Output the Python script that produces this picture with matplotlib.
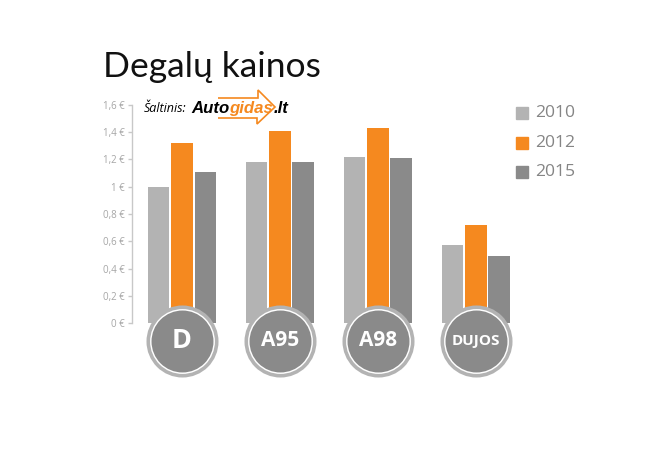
import matplotlib
matplotlib.use("Agg")
import matplotlib.pyplot as plt
import numpy as np
from matplotlib.patches import Polygon

W, H = 670, 473

fuels = ["D", "A95", "A98", "DUJOS"]
years = ["2010", "2012", "2015"]
prices_2010 = [1.00, 1.18, 1.22, 0.57]
prices_2012 = [1.32, 1.41, 1.43, 0.72]
prices_2015 = [1.11, 1.18, 1.21, 0.49]
ticks = [0, 0.2, 0.4, 0.6, 0.8, 1.0, 1.2, 1.4, 1.6]
tick_labels = ["0 €", "0,2 €", "0,4 €", "0,6 €", "0,8 €", "1 €", "1,2 €", "1,4 €", "1,6 €"]

colors = ["#b3b3b3", "#f5891f", "#8a8a8a"]


def fx(x):
    return x / W


def fy(y):
    return 1 - y / H


fig = plt.figure(figsize=(W / 100, H / 100), dpi=100)
fig.patch.set_facecolor("white")

# axes: left edge = y axis line at px 132, y=0 at px 323, y=1.6 at px 105
ax = fig.add_axes([fx(132), fy(323), fx(520) - fx(132), fy(105) - fy(323)])
ax.set_xlim(-0.51, 3.45)
ax.set_ylim(0, 1.6)

x = np.arange(len(fuels))
bw = 0.22
off = 0.238
for i, vals in enumerate([prices_2010, prices_2012, prices_2015]):
    ax.bar(x + (i - 1) * off, vals, width=bw, color=colors[i], zorder=2)

# round badges under each group
ax.scatter(x, [-0.13] * 4, s=2690, color="#b3b3b3", clip_on=False, zorder=5, linewidths=0)
ax.scatter(x, [-0.13] * 4, s=2180, color="white", clip_on=False, zorder=6, linewidths=0)
ax.scatter(x, [-0.13] * 4, s=1990, color="#8a8a8a", clip_on=False, zorder=7, linewidths=0)
sizes = [19.5, 15, 15, 11]
for xi, name, fs in zip(x, fuels, sizes):
    ax.text(xi, -0.13, name, ha="center", va="center", color="white",
            fontsize=fs, fontweight="bold", family="Open Sans", zorder=8, clip_on=False)

for s in ["top", "right", "bottom"]:
    ax.spines[s].set_visible(False)
ax.spines["left"].set_color("#c8c8c8")
ax.spines["left"].set_linewidth(1)
ax.set_xticks([])
ax.set_yticks(ticks)
ax.set_yticklabels(tick_labels)
ax.tick_params(axis="y", length=3, width=1, color="#c8c8c8", labelcolor="#a6a6a6",
               labelsize=7, pad=2)
for lab in ax.get_yticklabels():
    lab.set_family("Open Sans")

# title
fig.text(fx(103), fy(77), "Degalų kainos", fontsize=25.5, family="Lato",
         color="#111111", ha="left", va="baseline")

# legend
leg_y = [113, 143, 172]
for yy, yr, c in zip(leg_y, years, colors):
    fig.patches.append(plt.Rectangle((fx(516), fy(yy + 6)), fx(12), 12 / H,
                                     transform=fig.transFigure, color=c))
    fig.text(fx(535), fy(yy), yr, fontsize=12.6, family="Open Sans", color="#858585",
             ha="left", va="center")

# source logo
arrow = [(218, 98), (258, 98), (258, 90), (275, 107), (257, 124), (257, 118), (218, 118)]
fig.patches.append(Polygon([(fx(a), fy(b)) for a, b in arrow], closed=False,
                           transform=fig.transFigure, facecolor="white",
                           edgecolor="#f5891f", linewidth=1.2))
fig.text(fx(144), fy(112), "Šaltinis:", fontsize=9, style="italic",
         family="Open Sans", color="black", ha="left", va="baseline")

fig.canvas.draw()
r = fig.canvas.get_renderer()
parts = [("Auto", "black"), ("gidas", "#f5891f"), (".lt", "black")]
fs = 12
probe = fig.text(0, 0, "".join(p for p, _ in parts), fontsize=fs, style="italic",
                 fontweight="bold", family="Liberation Sans")
fs = fs * 96 / probe.get_window_extent(r).width
probe.remove()
xpos = 191
for part, c in parts:
    t = fig.text(fx(xpos), fy(113), part, fontsize=fs, style="italic", fontweight="bold",
                 family="Liberation Sans", color=c, ha="left", va="baseline")
    xpos += t.get_window_extent(r).width

fig.savefig("out.png", dpi=100, facecolor="white")
